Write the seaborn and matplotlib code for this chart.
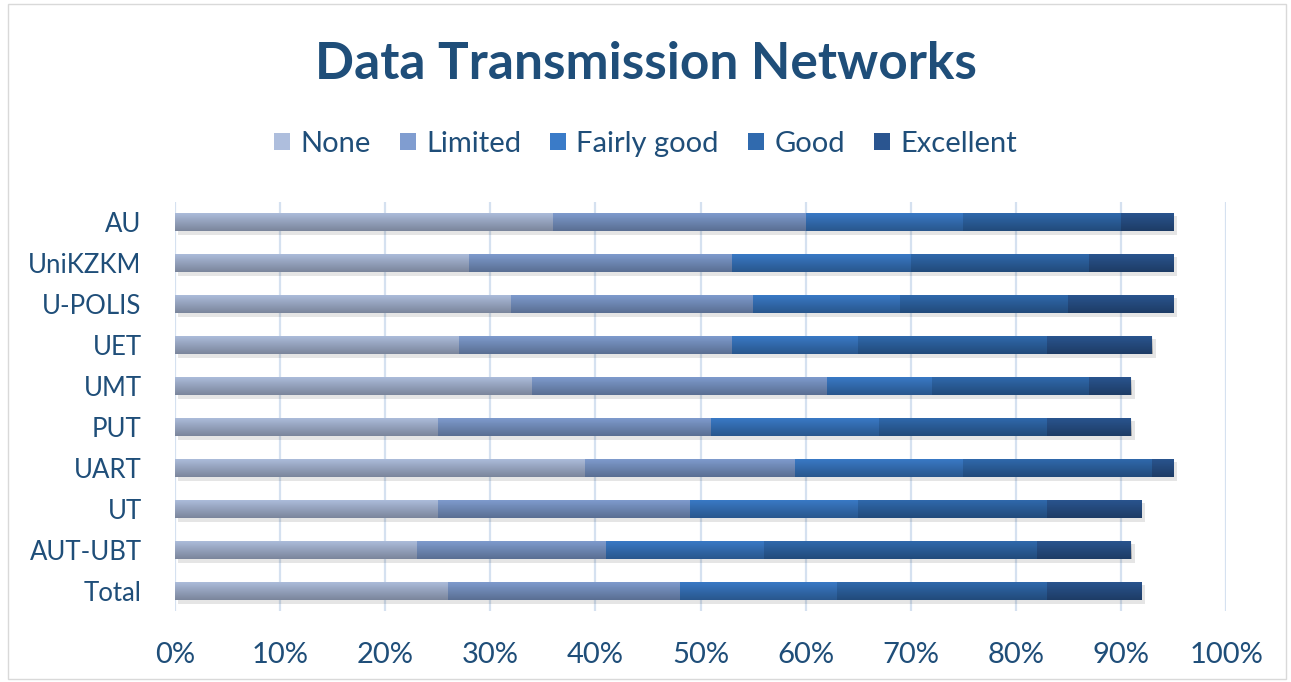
import numpy as np
import pandas as pd
import matplotlib
matplotlib.use("Agg")
import matplotlib.pyplot as plt
import seaborn as sns
from matplotlib.patches import Patch, Rectangle
from matplotlib.ticker import PercentFormatter

# data (percent of respondents)
institutions = ["AU", "UniKZKM", "U-POLIS", "UET", "UMT", "PUT", "UART", "UT", "AUT-UBT", "Total"]
levels = ["None", "Limited", "Fairly good", "Good", "Excellent"]
none_vals = [36, 28, 32, 27, 34, 25, 39, 25, 23, 26]
limited_vals = [24, 25, 23, 26, 28, 26, 20, 24, 18, 22]
fairly_good_vals = [15, 17, 14, 12, 10, 16, 16, 16, 15, 15]
good_vals = [15, 17, 16, 18, 15, 16, 18, 18, 26, 20]
excellent_vals = [5, 8, 10, 10, 4, 8, 2, 9, 9, 9]

colors = ["#aebedd", "#809dd0", "#3a7bc8", "#306aae", "#2a5590"]
text_color = "#1f4e79"

df = pd.DataFrame({
    "Institution": institutions,
    "None": none_vals,
    "Limited": limited_vals,
    "Fairly good": fairly_good_vals,
    "Good": good_vals,
    "Excellent": excellent_vals,
})
cum = df[levels].cumsum(axis=1)

sns.set_theme(style="white")
plt.rcParams["font.family"] = ["Lato", "DejaVu Sans"]

fig = plt.figure(figsize=(12.91, 6.82), dpi=100)
ax = fig.add_axes([0.1356, 0.1034, 0.8141, 0.6011])

# stacked bars: draw cumulative totals from longest to shortest
for lvl, col in reversed(list(zip(levels, colors))):
    sns.barplot(x=cum[lvl], y=df["Institution"], color=col, orient="h",
                width=0.46, ax=ax, zorder=3, saturation=1, linewidth=0)

# vertical shading over each full bar (Excel-like gradient)
grad = np.zeros((64, 2, 4))
grad[:, :, 3] = np.linspace(0.0, 0.3, 64)[:, None]
full_bars = ax.patches[:len(institutions)]
for p in full_bars:
    x0, y0 = p.get_x(), p.get_y()
    w, h = p.get_width(), p.get_height()
    # soft shadow below bar
    ax.add_patch(Rectangle((x0 + 0.3, y0 + 0.08), w, h, color="black",
                           alpha=0.10, zorder=2, lw=0))
    im = ax.imshow(grad, extent=(x0, x0 + w, y0 + h, y0), aspect="auto",
                   zorder=4, interpolation="bilinear")
    im.set_clip_path(p)

ax.set_xlim(0, 100)
ax.set_ylim(len(institutions) - 0.5, -0.5)
ax.set_xticks(np.arange(0, 101, 10))
ax.xaxis.set_major_formatter(PercentFormatter(decimals=0))
ax.grid(axis="x", color="#d5e1f0", lw=1.6, zorder=0)
ax.grid(axis="y", visible=False)
for s in ax.spines.values():
    s.set_visible(False)
ax.set_xlabel("")
ax.set_ylabel("")
ax.tick_params(axis="both", length=0, colors=text_color)
ax.tick_params(axis="x", pad=22, labelsize=21)
ax.tick_params(axis="y", pad=24, labelsize=18.5)
for lab in ax.get_yticklabels():
    lab.set_horizontalalignment("right")

fig.text(0.5, 0.905, "Data Transmission Networks", ha="center", va="center",
         fontsize=37, fontweight="bold", color=text_color)

handles = [Patch(facecolor=c, edgecolor="none", label=l) for l, c in zip(levels, colors)]
leg = fig.legend(handles=handles, loc="center", bbox_to_anchor=(0.5, 0.789), ncol=5,
                 frameon=False, fontsize=21, handlelength=0.55, handleheight=0.55,
                 handletextpad=0.35, columnspacing=1.0)
for t in leg.get_texts():
    t.set_color(text_color)

# thin chart-area border
fig.patches.append(Rectangle((0.006, 0.004), 0.99, 0.99, transform=fig.transFigure,
                             fill=False, edgecolor="#d9d9d9", lw=1))

fig.savefig("out.png", dpi=100)
